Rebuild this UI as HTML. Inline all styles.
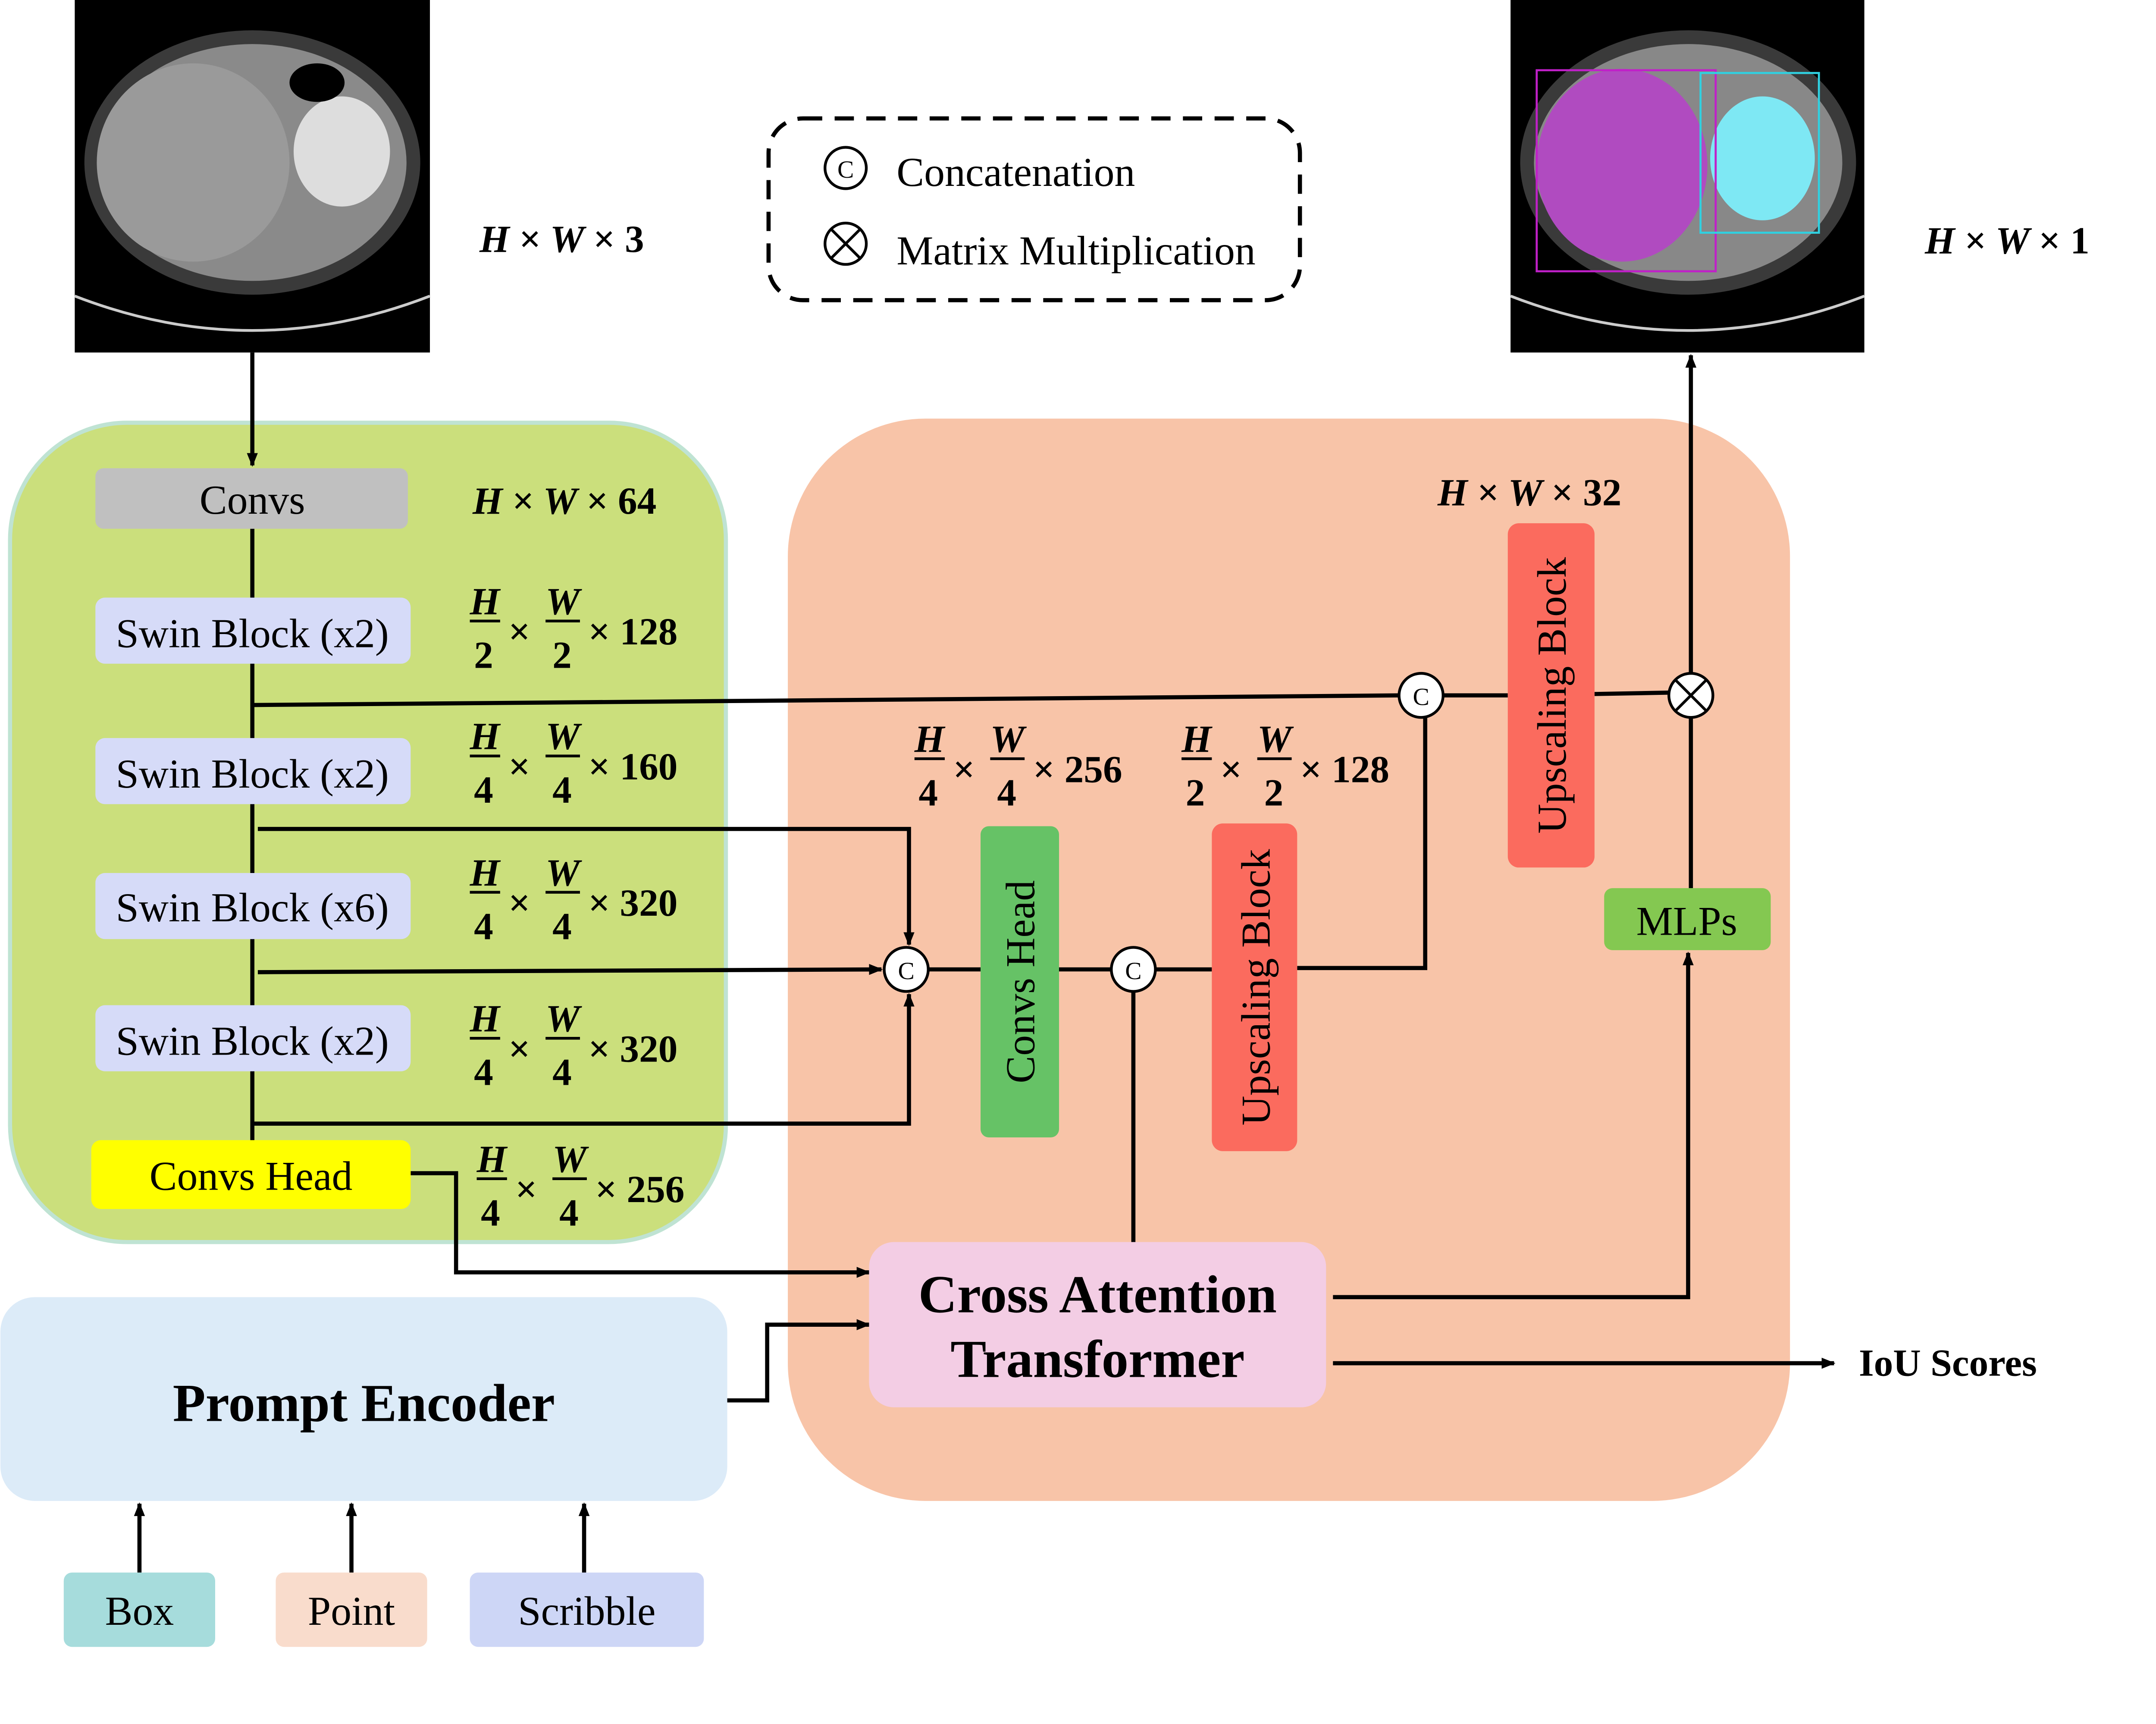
<!DOCTYPE html>
<html><head><meta charset="utf-8"><style>
html,body{margin:0;padding:0;background:#fff;}
svg{display:block;}
text{font-family:"Liberation Serif",serif;}
.m{font-weight:bold;font-style:italic;font-size:28px;}
.n{font-style:normal;}
.b{font-weight:bold;font-size:28px;font-style:normal;}
.l{font-size:30px;}
</style></head><body>
<svg width="5161" height="3997" viewBox="0 0 1616 1252" xmlns="http://www.w3.org/2000/svg">
<defs>
<marker id="a" markerWidth="10" markerHeight="10" refX="9" refY="5" orient="auto" markerUnits="userSpaceOnUse"><path d="M0,1 L10,5 L0,9 z" fill="#000"/></marker>
</defs>
<rect x="54" y="0" width="258" height="256" fill="#000"/>
<ellipse cx="183" cy="118" rx="122" ry="96" fill="#3a3a3a"/>
<ellipse cx="183" cy="118" rx="112" ry="86" fill="#8a8a8a"/>
<ellipse cx="140" cy="118" rx="70" ry="72" fill="#9a9a9a"/>
<ellipse cx="248" cy="110" rx="35" ry="40" fill="#ddd"/>
<ellipse cx="230" cy="60" rx="20" ry="14" fill="#000"/>
<path d="M54,215 Q183,265 312,215" stroke="#ccc" stroke-width="2" fill="none"/>
<rect x="1097" y="0" width="257" height="256" fill="#000"/>
<ellipse cx="1226" cy="118" rx="122" ry="96" fill="#3a3a3a"/>
<ellipse cx="1226" cy="118" rx="112" ry="86" fill="#888"/>
<ellipse cx="1178" cy="120" rx="62" ry="70" fill="#b04bc0"/>
<ellipse cx="1280" cy="115" rx="38" ry="45" fill="#7ee8f4"/>
<rect x="1116" y="51" width="130" height="146" fill="none" stroke="#c020c8" stroke-width="1.5"/>
<rect x="1235" y="53" width="86" height="116" fill="none" stroke="#30d0e0" stroke-width="1.5"/>
<path d="M1097,215 Q1226,265 1354,215" stroke="#ccc" stroke-width="2" fill="none"/>
<text x="348" y="183" class="m">H <tspan class="n">×</tspan> W <tspan class="n">× 3</tspan></text>
<text x="1398" y="184" class="m">H <tspan class="n">×</tspan> W <tspan class="n">× 1</tspan></text>
<rect x="558" y="86" width="386" height="132" rx="25" fill="none" stroke="#000" stroke-width="3" stroke-dasharray="14,9"/>
<circle cx="614" cy="122" r="15" fill="none" stroke="#000" stroke-width="2"/><text x="614" y="129" font-size="18" text-anchor="middle">C</text>
<text x="651" y="135" class="l">Concatenation</text>
<circle cx="614" cy="177" r="15" fill="none" stroke="#000" stroke-width="2"/>
<path d="M603,166 L625,188 M625,166 L603,188" stroke="#000" stroke-width="2"/>
<text x="651" y="192" class="l">Matrix Multiplication</text>
<rect x="7" y="307" width="520" height="595" rx="85" fill="#cbdf7c" stroke="#bfe3d3" stroke-width="3"/>
<rect x="572" y="304" width="728" height="786" rx="100" fill="#f8c4a8"/>
<rect x="0" y="942" width="528" height="148" rx="25" fill="#dcebf8"/>
<text x="264" y="1032" font-size="39" font-weight="bold" text-anchor="middle">Prompt Encoder</text>
<g stroke="#000" stroke-width="3" fill="none">
<line x1="183" y1="256" x2="183" y2="338" marker-end="url(#a)"/>
<line x1="183" y1="384" x2="183" y2="828"/>
<line x1="183" y1="512" x2="1016" y2="505"/>
<line x1="1048" y1="505" x2="1095" y2="505"/>
<line x1="1158" y1="504" x2="1212" y2="503"/>
<polyline points="187,602 660,602 660,686" marker-end="url(#a)"/>
<line x1="187" y1="706" x2="640" y2="704" marker-end="url(#a)"/>
<polyline points="183,816 660,816 660,722" marker-end="url(#a)"/>
<line x1="674" y1="704" x2="712" y2="704"/>
<line x1="769" y1="704" x2="807" y2="704"/>
<line x1="823" y1="720" x2="823" y2="902"/>
<line x1="839" y1="704" x2="880" y2="704"/>
<polyline points="942,703 1035,703 1035,521"/>
<line x1="1228" y1="489" x2="1228" y2="258" marker-end="url(#a)"/>
<line x1="1228" y1="645" x2="1228" y2="521"/>
<polyline points="968,942 1226,942 1226,692" marker-end="url(#a)"/>
<line x1="968" y1="990" x2="1332" y2="990" marker-end="url(#a)"/>
<polyline points="298,852 331,852 331,924 631,924" marker-end="url(#a)"/>
<polyline points="528,1017 557,1017 557,962 631,962" marker-end="url(#a)"/>
<line x1="101" y1="1142" x2="101" y2="1092" marker-end="url(#a)"/>
<line x1="255" y1="1142" x2="255" y2="1092" marker-end="url(#a)"/>
<line x1="424" y1="1142" x2="424" y2="1092" marker-end="url(#a)"/>
</g>
<rect x="69" y="340" width="227" height="44" rx="6" fill="#c0c0c0"/><text x="183" y="373" class="l" text-anchor="middle">Convs</text>
<rect x="69" y="434" width="229" height="48" rx="7" fill="#d6dbf8"/><text x="183" y="470" class="l" text-anchor="middle">Swin Block (x2)</text>
<rect x="69" y="536" width="229" height="48" rx="7" fill="#d6dbf8"/><text x="183" y="572" class="l" text-anchor="middle">Swin Block (x2)</text>
<rect x="69" y="634" width="229" height="48" rx="7" fill="#d6dbf8"/><text x="183" y="669" class="l" text-anchor="middle">Swin Block (x6)</text>
<rect x="69" y="730" width="229" height="48" rx="7" fill="#d6dbf8"/><text x="183" y="766" class="l" text-anchor="middle">Swin Block (x2)</text>
<rect x="66" y="828" width="232" height="50" rx="7" fill="#ffff00"/><text x="182" y="864" class="l" text-anchor="middle">Convs Head</text>
<text x="343" y="373" class="m">H <tspan class="n">×</tspan> W <tspan class="n">× 64</tspan></text>
<g class="m">
<g transform="translate(341,428)"><text x="0" y="18">H</text><line x1="0" y1="23" x2="22" y2="23" stroke="#000" stroke-width="2"/><text x="3" y="57" class="n">2</text><text x="28" y="40" class="n">×</text><text x="55" y="18">W</text><line x1="55" y1="23" x2="80" y2="23" stroke="#000" stroke-width="2"/><text x="60" y="57" class="n">2</text><text x="86" y="40" class="n">× 128</text></g>
<g transform="translate(341,526)"><text x="0" y="18">H</text><line x1="0" y1="23" x2="22" y2="23" stroke="#000" stroke-width="2"/><text x="3" y="57" class="n">4</text><text x="28" y="40" class="n">×</text><text x="55" y="18">W</text><line x1="55" y1="23" x2="80" y2="23" stroke="#000" stroke-width="2"/><text x="60" y="57" class="n">4</text><text x="86" y="40" class="n">× 160</text></g>
<g transform="translate(341,625)"><text x="0" y="18">H</text><line x1="0" y1="23" x2="22" y2="23" stroke="#000" stroke-width="2"/><text x="3" y="57" class="n">4</text><text x="28" y="40" class="n">×</text><text x="55" y="18">W</text><line x1="55" y1="23" x2="80" y2="23" stroke="#000" stroke-width="2"/><text x="60" y="57" class="n">4</text><text x="86" y="40" class="n">× 320</text></g>
<g transform="translate(341,731)"><text x="0" y="18">H</text><line x1="0" y1="23" x2="22" y2="23" stroke="#000" stroke-width="2"/><text x="3" y="57" class="n">4</text><text x="28" y="40" class="n">×</text><text x="55" y="18">W</text><line x1="55" y1="23" x2="80" y2="23" stroke="#000" stroke-width="2"/><text x="60" y="57" class="n">4</text><text x="86" y="40" class="n">× 320</text></g>
<g transform="translate(346,833)"><text x="0" y="18">H</text><line x1="0" y1="23" x2="22" y2="23" stroke="#000" stroke-width="2"/><text x="3" y="57" class="n">4</text><text x="28" y="40" class="n">×</text><text x="55" y="18">W</text><line x1="55" y1="23" x2="80" y2="23" stroke="#000" stroke-width="2"/><text x="60" y="57" class="n">4</text><text x="86" y="40" class="n">× 256</text></g>
<g transform="translate(664,528)"><text x="0" y="18">H</text><line x1="0" y1="23" x2="22" y2="23" stroke="#000" stroke-width="2"/><text x="3" y="57" class="n">4</text><text x="28" y="40" class="n">×</text><text x="55" y="18">W</text><line x1="55" y1="23" x2="80" y2="23" stroke="#000" stroke-width="2"/><text x="60" y="57" class="n">4</text><text x="86" y="40" class="n">× 256</text></g>
<g transform="translate(858,528)"><text x="0" y="18">H</text><line x1="0" y1="23" x2="22" y2="23" stroke="#000" stroke-width="2"/><text x="3" y="57" class="n">2</text><text x="28" y="40" class="n">×</text><text x="55" y="18">W</text><line x1="55" y1="23" x2="80" y2="23" stroke="#000" stroke-width="2"/><text x="60" y="57" class="n">2</text><text x="86" y="40" class="n">× 128</text></g>
</g>
<text x="1044" y="367" class="m">H <tspan class="n">×</tspan> W <tspan class="n">× 32</tspan></text>
<rect x="712" y="600" width="57" height="226" rx="6" fill="#66c266"/>
<text transform="translate(751,713) rotate(-90)" class="l" text-anchor="middle">Convs Head</text>
<rect x="880" y="598" width="62" height="238" rx="8" fill="#fb6b5e"/>
<text transform="translate(922,717) rotate(-90)" class="l" text-anchor="middle">Upscaling Block</text>
<rect x="1095" y="380" width="63" height="250" rx="8" fill="#fb6b5e"/>
<text transform="translate(1137,505) rotate(-90)" class="l" text-anchor="middle">Upscaling Block</text>
<rect x="1165" y="645" width="121" height="45" rx="6" fill="#84c851"/><text x="1225" y="679" class="l" text-anchor="middle">MLPs</text>
<rect x="631" y="902" width="332" height="120" rx="18" fill="#f3cde4"/>
<text x="797" y="953" font-size="39" font-weight="bold" text-anchor="middle">Cross Attention</text>
<text x="797" y="1000" font-size="39" font-weight="bold" text-anchor="middle">Transformer</text>
<text x="1350" y="999" class="b">IoU Scores</text>
<g fill="#fff" stroke="#000" stroke-width="2">
<circle cx="658" cy="704" r="16"/><circle cx="823" cy="704" r="16"/><circle cx="1032" cy="505" r="16"/><circle cx="1228" cy="505" r="16"/>
</g>
<g font-size="18" text-anchor="middle"><text x="658" y="711">C</text><text x="823" y="711">C</text><text x="1032" y="512">C</text></g>
<path d="M1217,494 L1239,516 M1239,494 L1217,516" stroke="#000" stroke-width="2"/>
<rect x="46" y="1142" width="110" height="54" rx="6" fill="#a6dcdc"/><text x="101" y="1180" class="l" text-anchor="middle">Box</text>
<rect x="200" y="1142" width="110" height="54" rx="6" fill="#f9dccc"/><text x="255" y="1180" class="l" text-anchor="middle">Point</text>
<rect x="341" y="1142" width="170" height="54" rx="6" fill="#cdd6f6"/><text x="426" y="1180" class="l" text-anchor="middle">Scribble</text>
</svg>
</body></html>
